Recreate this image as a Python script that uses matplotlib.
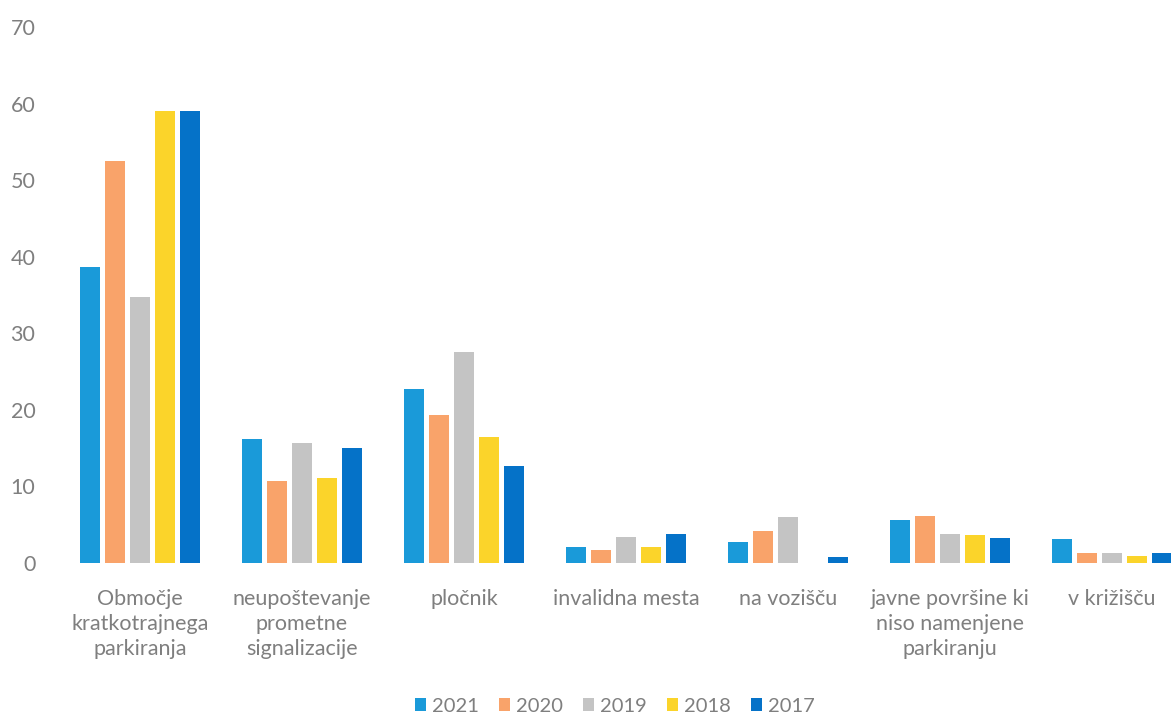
import numpy as np
import matplotlib.pyplot as plt

plt.rcParams['font.family'] = ['Lato', 'DejaVu Sans']

categories = ['Območje\nkratkotrajnega\nparkiranja',
              'neupoštevanje\nprometne\nsignalizacije',
              'pločnik',
              'invalidna mesta',
              'na vozišču',
              'javne površine ki\nniso namenjene\nparkiranju',
              'v križišču']
years = ['2021', '2020', '2019', '2018', '2017']
values = {
    '2021': [38.6, 16.2, 22.7, 2.1, 2.7, 5.6, 3.1],
    '2020': [52.5, 10.7, 19.3, 1.7, 4.2, 6.1, 1.3],
    '2019': [34.7, 15.7, 27.5, 3.4, 6.0, 3.8, 1.3],
    '2018': [59.0, 11.1, 16.4, 2.1, 0.0, 3.7, 0.9],
    '2017': [59.0, 15.0, 12.7, 3.8, 0.8, 3.3, 1.3],
}
colors = ['#1a9ad9', '#f9a36a', '#c4c4c4', '#fbd42a', '#0572c8']

fig = plt.figure(figsize=(11.71, 7.14), dpi=100)
ax = fig.add_axes([59 / 1171, 151 / 714, 1134 / 1171, 536 / 714])

x = np.arange(len(categories))
w = 0.123
step = 0.154
for i, yr in enumerate(years):
    ax.bar(x + (i - 2) * step, values[yr], width=w, color=colors[i], label=yr)

ax.set_xlim(-0.5, len(categories) - 0.5)
ax.set_ylim(0, 70)
ax.set_yticks(range(0, 71, 10))
ax.set_xticks(x)
ax.set_xticklabels(categories, linespacing=1.3)
for s in ax.spines.values():
    s.set_visible(False)
ax.tick_params(axis='both', length=0, colors='#7f7f7f', labelsize=15.5)
ax.tick_params(axis='x', pad=19)
ax.tick_params(axis='y', pad=17)

leg = ax.legend(loc='lower center', bbox_to_anchor=(556 / 1134, -151 / 536 - 0.035),
                ncol=5, frameon=False, fontsize=14.5, handlelength=0.55, handleheight=0.55,
                handletextpad=0.3, columnspacing=1.0, labelcolor='#7f7f7f')

fig.savefig('out.png', dpi=100)
